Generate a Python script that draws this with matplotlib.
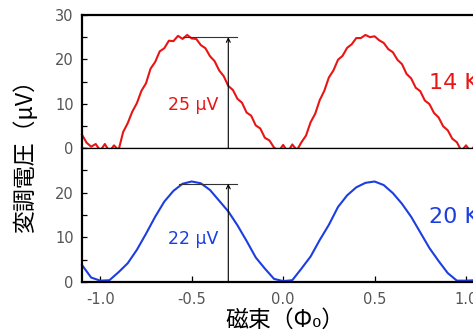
# coding=utf-8
import numpy as np
import matplotlib
matplotlib.use('Agg')
import matplotlib.pyplot as plt
from matplotlib.ticker import MultipleLocator

red = [3.0, 1.2, 0.3, 0.9, -0.6, 0.9, -0.8, 0.6, -0.5, 3.6,
       5.6, 8.2, 10.1, 12.9, 14.6, 17.9, 19.4, 21.8, 22.5, 24.2,
       24.1, 25.3, 24.6, 25.5, 24.7, 24.6, 23.2, 22.5, 20.7, 19.6,
       17.5, 16.2, 14.0, 13.1, 11.1, 10.2, 8.0, 7.3, 5.1, 4.4,
       2.3, 1.7, 0.1, -0.8, 0.7, -0.9, 0.8, -0.5, 1.3, 2.8,
       5.8, 7.7, 10.8, 12.9, 15.9, 17.5, 19.9, 20.8, 22.6, 23.4,
       24.8, 24.8, 25.5, 25.0, 25.2, 24.3, 23.7, 22.3, 21.6, 19.9,
       18.9, 16.7, 15.7, 13.6, 12.8, 10.7, 9.9, 7.9, 6.9, 4.9,
       4.0, 2.1, 1.3, -0.7, 0.6, -0.8, 0.7, -0.3, 0.4]
# 20 K trace, every 0.05 Phi0 from -1.1 to 1.1
blue = [3.8, 1.0, 0.3, 0.4, 2.2, 4.2, 7.2, 10.8, 14.6, 18.0,
        20.4, 22.0, 22.5, 22.1, 20.6, 18.2, 15.8, 12.7, 9.2, 5.5,
        3.0, 0.7, 0.2, 0.4, 3.0, 5.7, 9.4, 12.8, 16.8, 19.4,
        21.2, 22.2, 22.5, 21.7, 19.9, 17.5, 14.6, 11.1, 7.6, 4.7,
        2.0, 0.3, 0.3, 0.4, 1.5]
phiRed = np.linspace(-1.1, 1.1, len(red))
phiBlue = np.linspace(-1.1, 1.1, len(blue))

xticks = [-1.0, -0.5, 0.0, 0.5, 1.0]
xtickLabels = ['-1.0', '-0.5', '0.0', '0.5', '1.0']
ampRed = 25; ampBlue = 22
markX = -0.3

redC = '#e81515'
blueC = '#1c3ee0'
grey = '#555555'
jp = ['Noto Sans CJK JP', 'DejaVu Sans']

fig = plt.figure(figsize=(4.73, 3.33), dpi=100)
W = (484.3 - 82) / 473.
axTop = fig.add_axes([82 / 473., 185 / 333., W, 133 / 333.])
axBot = fig.add_axes([82 / 473., 51 / 333., W, 134 / 333.])

for ax in (axTop, axBot):
    ax.set_xlim(-1.1, 1.1)
    ax.set_ylim(0, 30)
    for s in ('left', 'top', 'bottom'):
        ax.spines[s].set_linewidth(1.6)
    ax.spines['right'].set_visible(False)
    ax.yaxis.set_major_locator(MultipleLocator(10))
    ax.yaxis.set_minor_locator(MultipleLocator(5))
    ax.tick_params(axis='y', which='both', direction='in', length=3.5, width=0.9,
                   labelsize=10.5, labelcolor=grey, pad=6)
axTop.spines['bottom'].set_linewidth(0.9)
axBot.spines['top'].set_linewidth(0.9)

axTop.set_yticks([0, 10, 20, 30])
axTop.set_xticks([])
axBot.set_yticks([0, 10, 20])
axBot.set_xticks(xticks)
axBot.set_xticklabels(xtickLabels)
axBot.tick_params(axis='x', direction='in', length=4, width=0.9,
                  labelsize=10.5, labelcolor=grey, pad=7)

axTop.plot(phiRed, red, color=redC, lw=1.5, clip_on=False)
axBot.plot(phiBlue, blue, color=blueC, lw=1.5, clip_on=False)

# amplitude markers
axTop.plot([-0.55, -0.25], [ampRed, ampRed], color='#333333', lw=0.8)
axTop.annotate('', xy=(markX, ampRed), xytext=(markX, 0),
               arrowprops=dict(arrowstyle='->', lw=0.8, color='k',
                               mutation_scale=7, shrinkA=0, shrinkB=0))
axBot.plot([-0.57, -0.25], [ampBlue, ampBlue], color='#333333', lw=0.8)
axBot.annotate('', xy=(markX, ampBlue), xytext=(markX, 0),
               arrowprops=dict(arrowstyle='->', lw=0.8, color='k',
                               mutation_scale=7, shrinkA=0, shrinkB=0))

axTop.text(-0.49, 9.7, '25 μV', color=redC, fontsize=12.5, ha='center', va='center')
axBot.text(-0.49, 9.6, '22 μV', color=blueC, fontsize=12.5, ha='center', va='center')
axTop.text(0.8, 14.7, '14 K', color=redC, fontsize=16, ha='left', va='center')
axBot.text(0.8, 14.6, '20 K', color=blueC, fontsize=16, ha='left', va='center')

fig.text(25 / 473., 1 - 151 / 333., '変調電圧（μV）', rotation=90, ha='center',
         va='center', fontsize=16.5, family=jp)
fig.text(285 / 473., 1 - 320 / 333., '磁束（Φ₀）', ha='center', va='center',
         fontsize=16.5, family=jp)

plt.savefig('out.png', dpi=100)
